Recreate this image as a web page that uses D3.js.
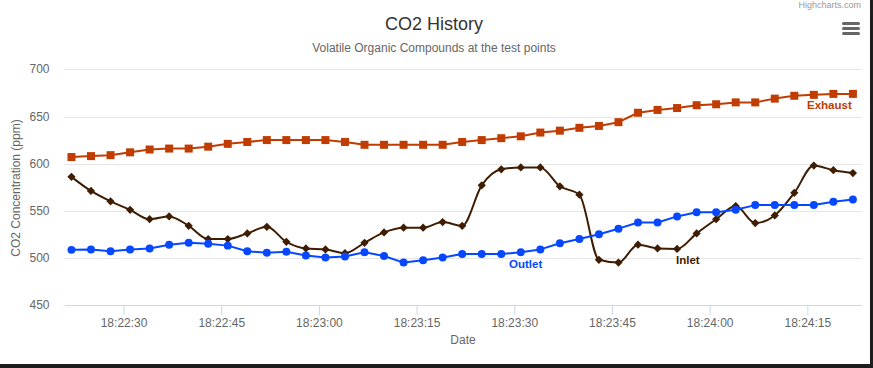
<!DOCTYPE html>
<html>
<head>
<meta charset="utf-8">
<script src="https://cdn.jsdelivr.net/npm/d3@7"></script>
<style>
  body { margin: 0; background: #1e1e1e; }
  #chart-container { width: 873px; height: 368px; }
  text { font-family: "Liberation Sans", Arial, sans-serif; }
</style>
</head>
<body>
<div id="chart-container"></div>
<script>
// sample times (every 3 s)
const times = [
  '18:22:22', '18:22:25', '18:22:28', '18:22:31', '18:22:34', '18:22:37', '18:22:40',
  '18:22:43', '18:22:46', '18:22:49', '18:22:52', '18:22:55', '18:22:58', '18:23:01',
  '18:23:04', '18:23:07', '18:23:10', '18:23:13', '18:23:16', '18:23:19', '18:23:22',
  '18:23:25', '18:23:28', '18:23:31', '18:23:34', '18:23:37', '18:23:40', '18:23:43',
  '18:23:46', '18:23:49', '18:23:52', '18:23:55', '18:23:58', '18:24:01', '18:24:04',
  '18:24:07', '18:24:10', '18:24:13', '18:24:16', '18:24:19', '18:24:22'
];

const exhaust = [
  607, 608, 609, 612, 615, 616, 616, 618, 621, 623, 625, 625, 625, 625,
  623, 620, 620, 620, 620, 620, 623, 625, 627, 629, 633, 635, 638, 640,
  644, 654, 657, 659, 662, 663, 665, 665, 669, 672, 673, 674, 674
];

const inlet = [
  586, 571, 560, 551, 541, 544, 534, 520, 520, 526, 533, 517, 510, 509,
  505, 516, 527, 532, 532, 538, 534, 577, 594, 596, 596, 576, 567, 498,
  495, 514, 510, 509.5, 526, 541, 555, 537, 545, 569, 598, 593, 590
];

const outlet = [
  508.5, 509, 507, 509, 510, 514, 516, 515, 513, 507, 505.5, 506.5, 502.5, 500.5,
  501.5, 506, 502, 495, 497.5, 500.5, 504, 504, 504, 506, 509, 515.5, 520,
  525, 531, 537.5, 537.5, 544, 548.5, 548.5, 551, 556, 556, 556, 556, 559.5, 562
];

const yTicks = [450, 500, 550, 600, 650, 700];
const xTicks = ['18:22:30', '18:22:45', '18:23:00', '18:23:15', '18:23:30', '18:23:45', '18:24:00', '18:24:15'];

const parseTime = d3.timeParse('%H:%M:%S');
const fmtTime = d3.timeFormat('%H:%M:%S');

function createChart(elementId) {
  const width = 870;
  const height = 364;
  const plot = { left: 64.3, right: 861.7, top: 69.4, bottom: 305 };

  const svg = d3.select(elementId)
    .append('svg')
    .attr('width', 873)
    .attr('height', 368);

  svg.append('rect')
    .attr('width', 873).attr('height', 368)
    .attr('fill', '#1e1e1e');
  svg.append('rect')
    .attr('width', width).attr('height', height)
    .attr('fill', '#ffffff');

  // axis runs from a bit before the first sample to a bit after the last
  const xScale = d3.scaleTime()
    .domain([parseTime('18:22:20').getTime() + 900, parseTime('18:24:23').getTime() + 350])
    .range([plot.left, plot.right]);

  const yScale = d3.scaleLinear()
    .domain([450, 700])
    .range([plot.bottom, plot.top]);

  // grid
  svg.append('g')
    .selectAll('line')
    .data(yTicks.filter(d => d !== 450))
    .enter()
    .append('line')
    .attr('x1', plot.left)
    .attr('x2', plot.right)
    .attr('y1', d => Math.round(yScale(d)) + 0.5)
    .attr('y2', d => Math.round(yScale(d)) + 0.5)
    .attr('stroke', '#e6e6e6')
    .attr('stroke-width', 1);

  // y labels
  svg.append('g')
    .selectAll('text')
    .data(yTicks)
    .enter()
    .append('text')
    .attr('x', 49.5)
    .attr('y', d => yScale(d) + 4)
    .attr('text-anchor', 'end')
    .attr('fill', '#666666')
    .style('font-size', '12px')
    .text(d => d);

  // x axis
  const xAxis = d3.axisBottom(xScale)
    .tickValues(xTicks.map(parseTime))
    .tickFormat(fmtTime)
    .tickSize(10)
    .tickSizeOuter(0);

  const xg = svg.append('g')
    .attr('transform', `translate(0, ${plot.bottom})`)
    .call(xAxis);
  xg.select('.domain').attr('stroke', '#ccd6eb');
  xg.selectAll('.tick line').attr('stroke', '#ccd6eb');
  xg.selectAll('.tick text')
    .attr('fill', '#666666')
    .attr('y', 13)
    .style('font-size', '12px')
    .style('font-family', '"Liberation Sans", Arial, sans-serif');

  // axis titles
  svg.append('text')
    .attr('x', 463)
    .attr('y', 344)
    .attr('text-anchor', 'middle')
    .attr('fill', '#666666')
    .style('font-size', '12px')
    .text('Date');

  svg.append('text')
    .attr('transform', 'translate(20, 188) rotate(-90)')
    .attr('text-anchor', 'middle')
    .attr('fill', '#666666')
    .style('font-size', '12px')
    .text('CO2 Concentration (ppm)');

  // title and subtitle
  svg.append('text')
    .attr('x', 434)
    .attr('y', 30)
    .attr('text-anchor', 'middle')
    .attr('fill', '#333333')
    .style('font-size', '18px')
    .text('CO2 History');

  svg.append('text')
    .attr('x', 434)
    .attr('y', 52)
    .attr('text-anchor', 'middle')
    .attr('fill', '#666666')
    .style('font-size', '12px')
    .text('Volatile Organic Compounds at the test points');

  // credit
  svg.append('text')
    .attr('x', 861)
    .attr('y', 8)
    .attr('text-anchor', 'end')
    .attr('fill', '#999999')
    .style('font-size', '9px')
    .text('Highcharts.com');

  // menu icon
  svg.append('g')
    .selectAll('line')
    .data([23.5, 28.5, 33.5])
    .enter()
    .append('line')
    .attr('x1', 843.5)
    .attr('x2', 858.5)
    .attr('y1', d => d)
    .attr('y2', d => d)
    .attr('stroke', '#666666')
    .attr('stroke-width', 3)
    .attr('stroke-linecap', 'round');

  // series
  const series = [
    { name: 'Exhaust', values: exhaust, color: '#c13c00', marker: d3.symbolSquare, rot: 0, curve: d3.curveLinear, size: 64, label: [807, 109] },
    { name: 'Inlet', values: inlet, color: '#3f1d02', marker: d3.symbolSquare, rot: 45, curve: d3.curveMonotoneX, size: 34, label: [676, 264] },
    { name: 'Outlet', values: outlet, color: '#0648ff', marker: d3.symbolCircle, rot: 0, curve: d3.curveLinear, size: 50, label: [509, 268] }
  ];

  series.forEach(s => {
    const pts = s.values.map((v, i) => ({ t: parseTime(times[i]), v: v }));

    const line = d3.line()
      .x(d => xScale(d.t))
      .y(d => yScale(d.v))
      .curve(s.curve);

    svg.append('path')
      .datum(pts)
      .attr('d', line)
      .attr('fill', 'none')
      .attr('stroke', s.color)
      .attr('stroke-width', 2)
      .attr('stroke-linejoin', 'round');

    svg.append('g')
      .selectAll('path')
      .data(pts)
      .enter()
      .append('path')
      .attr('d', d3.symbol().type(s.marker).size(s.size))
      .attr('transform', d => `translate(${xScale(d.t)}, ${yScale(d.v)}) rotate(${s.rot})`)
      .attr('fill', s.color);

    svg.append('text')
      .attr('x', s.label[0])
      .attr('y', s.label[1])
      .attr('fill', s.color)
      .style('font-size', '11.5px')
      .style('font-weight', 'bold')
      .text(s.name);
  });
}

createChart('#chart-container');
</script>
</body>
</html>
